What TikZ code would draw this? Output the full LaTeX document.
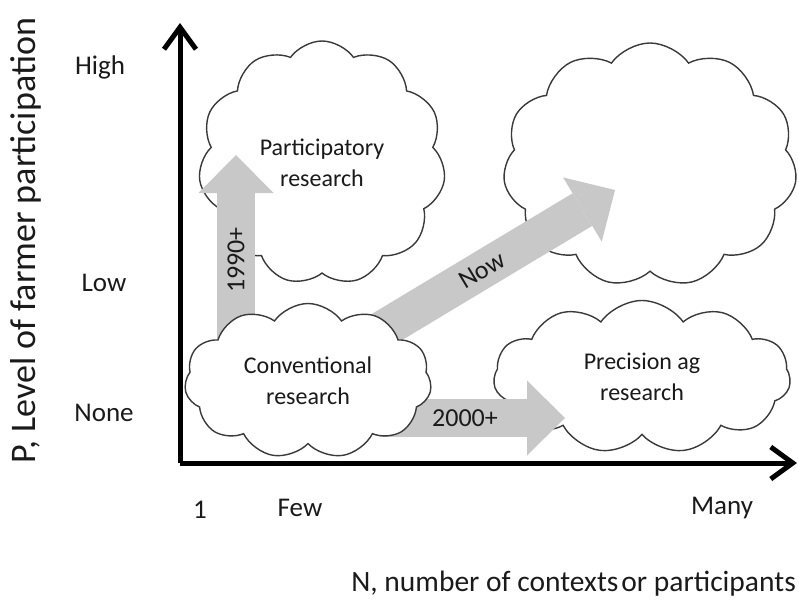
\documentclass[tikz,border=0pt]{standalone}
\usepackage{fontspec}
\setmainfont{Carlito}
\usetikzlibrary{shapes.symbols,arrows.meta}
\definecolor{cloudline}{HTML}{3A3A3A}
\definecolor{flowgrey}{HTML}{C8C8C8}
\definecolor{inktext}{HTML}{1A1A1A}

\begin{document}
\begin{tikzpicture}[x=1pt, y=-1pt,
    cloudbox/.style={cloud, cloud puffs=11, cloud puff arc=110, cloud ignores aspect,
        draw=cloudline, line width=1.4pt, fill=white, align=center, inner sep=0pt,
        text=inktext, font=\fontsize{24}{31}\selectfont},
    flow/.style={draw=flowgrey, line width=38pt,
        -{Triangle[length=38pt, width=75pt, line width=0pt]}},
    axis/.style={line width=5pt, -{Straight Barb[length=22pt, width=32pt]}},
    ticklabel/.style={text=inktext, font=\fontsize{27}{30}\selectfont},
    flowlabel/.style={text=inktext, font=\fontsize{26}{28}\selectfont}]
    \useasboundingbox (0,0) rectangle (799,608);

    % Axes
    \coordinate (O) at (180,463);
    \coordinate (ytop) at (180,23);
    \coordinate (xend) at (797,463);
    \draw[axis] (O) -- (ytop);
    \draw[axis] (O) -- (xend);

    % Target clouds
    \node[cloudbox, minimum width=247pt, minimum height=244pt] (part) at (322,163) {Participatory\\research};
    \node[cloudbox, minimum width=294pt, minimum height=244pt] (future) at (650,165) {};
    \node[cloudbox, minimum width=297pt, minimum height=153pt] (prec) at (642,377) {Precision ag\\research};

    % Shifts
    \coordinate (s1) at (236,370);
    \coordinate (e1) at (236,155);
    \coordinate (s2) at (332,360);
    \coordinate (e2) at (615,190);
    \coordinate (s3) at (380,418);
    \coordinate (e3) at (565,418);
    \draw[flow] (s1) -- (e1);
    \draw[flow] (s2) -- (e2);
    \draw[flow] (s3) -- (e3);
    \node[flowlabel, rotate=90] (l1) at (236,260) {1990+};
    \node[flowlabel, rotate=31] (l2) at (482,270) {Now};
    \node[flowlabel] (l3) at (465,418) {2000+};

    % Starting cloud
    \node[cloudbox, minimum width=247pt, minimum height=155pt] (conv) at (308,381) {Conventional\\research};

    % Axis labels
    \node[ticklabel] (high) at (100,67) {High};
    \node[ticklabel] (low) at (104,283) {Low};
    \node[ticklabel] (none) at (104,413) {None};
    \node[ticklabel] (one) at (200,510) {1};
    \node[ticklabel] (few) at (300,508) {Few};
    \node[ticklabel] (many) at (722,508) {Many};
    \node[text=inktext, font=\fontsize{36}{40}\selectfont, rotate=90] (ytitle) at (26,241) {P, Level of farmer participation};
    \node[text=inktext, font=\fontsize{29.5}{34}\selectfont, inner sep=0pt, anchor=east] (xtitle) at (796,584) {N, number of contexts\hspace{0.1em}or participants};
\end{tikzpicture}
\end{document}
